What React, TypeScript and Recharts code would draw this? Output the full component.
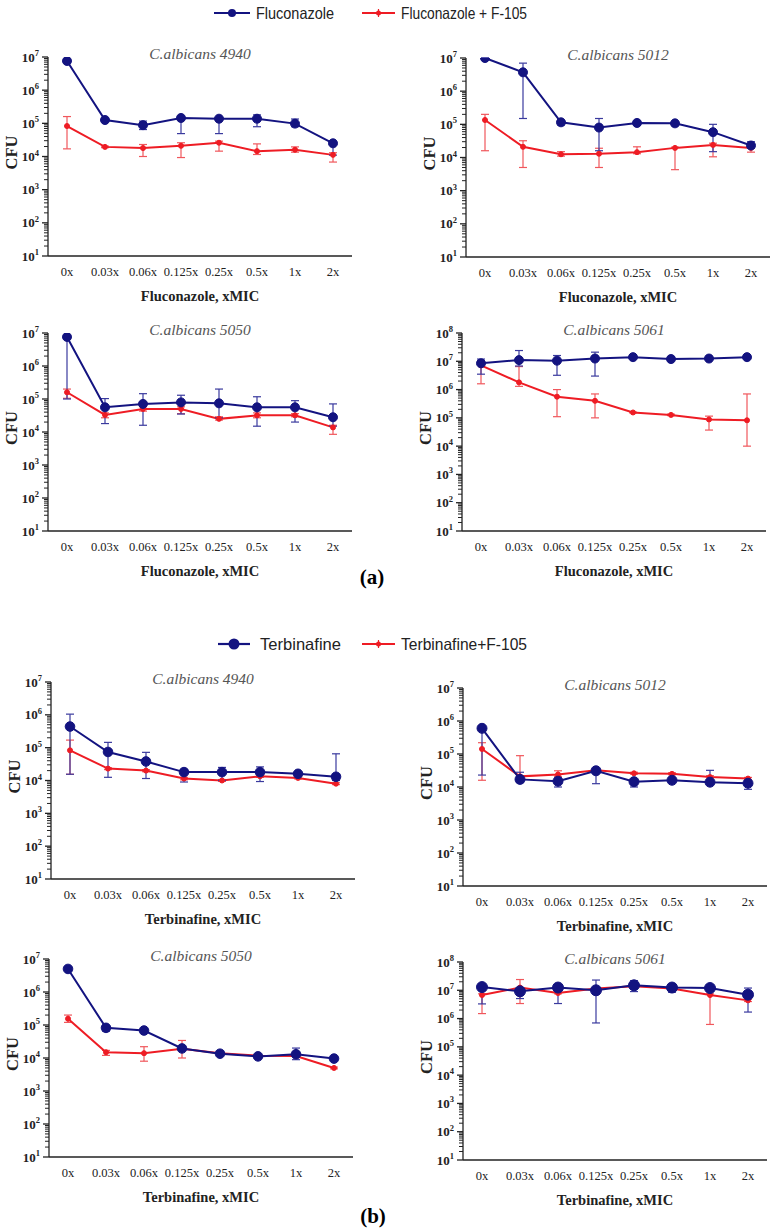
import React from 'react';
import { LineChart, Line, XAxis, YAxis, ErrorBar, Label } from 'recharts';

const doses = ['0x', '0.03x', '0.06x', '0.125x', '0.25x', '0.5x', '1x', '2x'];
const ticks7 = [1e1, 1e2, 1e3, 1e4, 1e5, 1e6, 1e7];
const ticks8 = [1e1, 1e2, 1e3, 1e4, 1e5, 1e6, 1e7, 1e8];
const minorSteps = [2, 3, 4, 5, 6, 7, 8, 9];

// (a) Fluconazole, C.albicans 4940
const flu4940 = [7.6e6, 1.26e5, 8.8e4, 1.45e5, 1.38e5, 1.38e5, 9.8e4, 2.5e4];
const flu4940Lo = [7.6e6, 1.2e5, 6.5e4, 4.9e4, 4.9e4, 7.9e4, 7.9e4, 1.1e4];
const flu4940Hi = [7.6e6, 1.32e5, 1.17e5, 1.6e5, 1.45e5, 1.8e5, 1.35e5, 2.6e4];
const fluF4940 = [8.3e4, 1.95e4, 1.8e4, 2.1e4, 2.6e4, 1.45e4, 1.6e4, 1.12e4];
const fluF4940Lo = [1.7e4, 1.85e4, 1.0e4, 9.3e3, 1.45e4, 1.15e4, 1.35e4, 6.8e3];
const fluF4940Hi = [1.6e5, 2.05e4, 2.3e4, 2.6e4, 2.9e4, 2.4e4, 1.95e4, 1.3e4];

// (a) Fluconazole, C.albicans 5012
const flu5012 = [1.0e7, 3.7e6, 1.15e5, 8.0e4, 1.1e5, 1.07e5, 5.8e4, 2.3e4];
const flu5012Lo = [1.0e7, 1.5e5, 9.5e4, 1.6e4, 1.0e5, 9.0e4, 1.5e4, 1.9e4];
const flu5012Hi = [1.0e7, 7.0e6, 1.3e5, 1.5e5, 1.2e5, 1.2e5, 1.0e5, 3.0e4];
const fluF5012 = [1.35e5, 2.1e4, 1.25e4, 1.3e4, 1.45e4, 1.95e4, 2.4e4, 1.95e4];
const fluF5012Lo = [1.6e4, 5.0e3, 1.1e4, 5.0e3, 1.3e4, 4.3e3, 1.05e4, 1.45e4];
const fluF5012Hi = [2.0e5, 3.2e4, 1.5e4, 1.9e4, 2.1e4, 2.05e4, 2.7e4, 2.4e4];

// (a) Fluconazole, C.albicans 5050
const flu5050 = [7.6e6, 5.6e4, 7.1e4, 7.9e4, 7.4e4, 5.6e4, 5.6e4, 2.8e4];
const flu5050Lo = [1.0e5, 1.8e4, 1.6e4, 3.5e4, 2.7e4, 1.5e4, 2.0e4, 1.5e4];
const flu5050Hi = [7.6e6, 1.03e5, 1.45e5, 1.3e5, 2.0e5, 1.17e5, 8.9e4, 7.1e4];
const fluF5050 = [1.6e5, 3.3e4, 5.0e4, 5.0e4, 2.5e4, 3.2e4, 3.2e4, 1.38e4];
const fluF5050Lo = [1.05e5, 2.7e4, 4.3e4, 3.6e4, 2.3e4, 2.7e4, 2.9e4, 8.5e3];
const fluF5050Hi = [2.0e5, 3.8e4, 5.8e4, 5.8e4, 2.9e4, 3.8e4, 3.6e4, 1.6e4];

// (a) Fluconazole, C.albicans 5061
const flu5061 = [8.5e6, 1.1e7, 1.05e7, 1.25e7, 1.4e7, 1.2e7, 1.25e7, 1.4e7];
const flu5061Lo = [3.5e6, 6.8e6, 3.2e6, 3.0e6, 1.35e7, 1.15e7, 1.2e7, 1.35e7];
const flu5061Hi = [1.2e7, 2.4e7, 1.6e7, 2.1e7, 1.45e7, 1.25e7, 1.3e7, 1.45e7];
const fluF5061 = [7.2e6, 1.8e6, 5.6e5, 4.0e5, 1.55e5, 1.27e5, 8.8e4, 8.2e4];
const fluF5061Lo = [1.6e6, 1.3e6, 1.1e5, 1.0e5, 1.5e5, 1.2e5, 3.7e4, 1.0e4];
const fluF5061Hi = [1.05e7, 6.5e6, 1.0e6, 7.0e5, 1.6e5, 1.35e5, 1.15e5, 7.0e5];

// (b) Terbinafine, C.albicans 4940
const ter4940 = [4.4e5, 7.4e4, 3.8e4, 1.8e4, 1.8e4, 1.8e4, 1.6e4, 1.3e4];
const ter4940Lo = [1.55e4, 1.25e4, 1.15e4, 9.0e3, 1.0e4, 9.3e3, 1.5e4, 1.0e4];
const ter4940Hi = [1.05e6, 1.45e5, 7.2e4, 2.2e4, 2.5e4, 2.6e4, 1.75e4, 6.5e4];
const terF4940 = [8.3e4, 2.3e4, 2.0e4, 1.15e4, 1.0e4, 1.35e4, 1.2e4, 8.0e3];
const terF4940Lo = [1.55e4, 2.15e4, 1.85e4, 1.05e4, 9.4e3, 1.25e4, 1.12e4, 7.5e3];
const terF4940Hi = [1.7e5, 2.45e4, 2.15e4, 1.25e4, 1.07e4, 1.45e4, 1.28e4, 8.5e3];

// (b) Terbinafine, C.albicans 5012
const ter5012 = [6.0e5, 1.7e4, 1.5e4, 3.1e4, 1.45e4, 1.6e4, 1.4e4, 1.3e4];
const ter5012Lo = [2.3e4, 1.36e4, 1.0e4, 1.26e4, 1.0e4, 1.5e4, 1.2e4, 8.5e3];
const ter5012Hi = [6.0e5, 2.8e4, 1.9e4, 3.3e4, 1.7e4, 1.8e4, 3.2e4, 1.6e4];
const terF5012 = [1.42e5, 2.1e4, 2.4e4, 3.2e4, 2.6e4, 2.5e4, 2.0e4, 1.8e4];
const terF5012Lo = [1.6e4, 1.9e4, 2.1e4, 3.0e4, 2.45e4, 2.35e4, 1.9e4, 1.7e4];
const terF5012Hi = [2.2e5, 8.9e4, 3.1e4, 3.4e4, 2.8e4, 2.7e4, 2.2e4, 1.95e4];

// (b) Terbinafine, C.albicans 5050
const ter5050 = [5.0e6, 8.2e4, 6.8e4, 1.95e4, 1.35e4, 1.12e4, 1.3e4, 9.6e3];
const ter5050Lo = [5.0e6, 6.5e4, 6.5e4, 1.7e4, 1.25e4, 1.05e4, 8.9e3, 9.0e3];
const ter5050Hi = [5.0e6, 9.8e4, 7.1e4, 2.3e4, 1.45e4, 1.2e4, 2.0e4, 1.0e4];
const terF5050 = [1.55e5, 1.5e4, 1.4e4, 1.9e4, 1.4e4, 1.17e4, 1.15e4, 5.0e3];
const terF5050Lo = [1.2e5, 1.2e4, 8.0e3, 1.0e4, 1.25e4, 1.1e4, 1.05e4, 4.7e3];
const terF5050Hi = [2.0e5, 1.7e4, 2.2e4, 3.4e4, 1.6e4, 1.25e4, 1.25e4, 5.3e3];

// (b) Terbinafine, C.albicans 5061
const ter5061 = [1.3e7, 9.2e6, 1.25e7, 1.0e7, 1.5e7, 1.25e7, 1.2e7, 7.0e6];
const ter5061Lo = [3.3e6, 5.1e6, 3.4e6, 7.0e5, 9.0e6, 8.5e6, 1.1e7, 1.7e6];
const ter5061Hi = [1.4e7, 1.2e7, 1.3e7, 2.3e7, 2.2e7, 1.7e7, 1.3e7, 1.2e7];
const terF5061 = [6.8e6, 1.25e7, 8.0e6, 1.15e7, 1.4e7, 1.15e7, 6.8e6, 4.4e6];
const terF5061Lo = [1.5e6, 3.4e6, 7.5e6, 1.1e7, 1.3e7, 1.1e7, 6.2e5, 4.0e6];
const terF5061Hi = [7.5e6, 2.4e7, 8.5e6, 1.2e7, 1.5e7, 1.2e7, 7.5e6, 4.8e6];

const NAVY = '#131380';
const NAVY_ERR = '#3a3a9e';
const RED = '#ee1c24';
const RED_ERR = '#f0575c';
const SERIF = '"Liberation Serif", "DejaVu Serif", serif';
const NARROW = '"Liberation Sans Narrow", "Liberation Sans", sans-serif';

function rows(b: number[], bLo: number[], bHi: number[], r: number[], rLo: number[], rHi: number[]) {
  return doses.map((d, i) => ({
    dose: d,
    drug: b[i],
    drugErr: [b[i] - bLo[i], bHi[i] - b[i]],
    combo: r[i],
    comboErr: [r[i] - rLo[i], rHi[i] - r[i]],
  }));
}

function withMinors(majors: number[]) {
  const out: number[] = [];
  majors.forEach((m, i) => {
    out.push(m);
    if (i < majors.length - 1) minorSteps.forEach((s) => out.push(m * s));
  });
  return out;
}

function LogTick(props: any) {
  const { x, y, payload } = props;
  const e = Math.log10(payload.value);
  const major = Math.abs(e - Math.round(e)) < 1e-6;
  return (
    <g>
      <line x1={x - (major ? 6 : 4)} x2={x} y1={y} y2={y} stroke="#222" strokeWidth={major ? 1.3 : 1} />
      {major && (
        <text x={x - 9} y={y + 4.5} textAnchor="end" fontFamily={SERIF} fontWeight="bold" fontSize={13} fill="#222">
          10<tspan dy={-5.5} fontSize={8.5}>{Math.round(e)}</tspan>
        </text>
      )}
    </g>
  );
}

type Plot = { x: number; y: number; w: number; h: number };

function Panel({ plot, data, top, title, xTitle, dotR }: {
  plot: Plot; data: any[]; top: number[]; title: string; xTitle: string; dotR: number;
}) {
  const ML = 60, MT = 30, MR = 10, XH = 60;
  const yMax = top[top.length - 1];
  return (
    <>
      <div style={{ position: 'absolute', left: plot.x - ML, top: plot.y - MT }}>
        <LineChart width={plot.w + ML + MR} height={plot.h + MT + XH} data={data}
          margin={{ top: MT, right: MR, left: 0, bottom: 0 }}>
          <XAxis dataKey="dose" height={XH} padding={{ left: 19, right: 19 }} interval={0}
            tickLine={false} tickSize={0} tickMargin={11}
            axisLine={{ stroke: '#222', strokeWidth: 1.3 }}
            tick={{ fontSize: 12.5, fontFamily: SERIF, fill: '#222' }}>
            <Label content={(p: any) => (
              <text x={p.viewBox.x + p.viewBox.width / 2} y={p.viewBox.y + 45} textAnchor="middle"
                fontFamily={SERIF} fontWeight="bold" fontSize={14.5} fill="#222">{xTitle}</text>
            )} />
          </XAxis>
          <YAxis scale="log" type="number" domain={[10, yMax]} allowDataOverflow width={ML}
            ticks={withMinors(top)} interval={0} tick={<LogTick />} tickLine={false} tickSize={0} tickMargin={0}
            axisLine={{ stroke: '#222', strokeWidth: 1.3 }}>
            <Label content={(p: any) => {
              const cx = p.viewBox.x + p.viewBox.width - 37;
              const cy = p.viewBox.y + p.viewBox.height / 2 - 4;
              return (
                <text x={cx} y={cy} transform={`rotate(-90 ${cx} ${cy})`} textAnchor="middle" dominantBaseline="central"
                  fontFamily={SERIF} fontWeight="bold" fontSize={16.5} fill="#222">CFU</text>
              );
            }} />
          </YAxis>
          <Line type="linear" dataKey="combo" stroke={RED} strokeWidth={2}
            dot={{ r: 2.5, fill: RED, stroke: RED, strokeWidth: 1 }} isAnimationActive={false}>
            <ErrorBar dataKey="comboErr" width={4} stroke={RED_ERR} strokeWidth={1.2} direction="y" />
          </Line>
          <Line type="linear" dataKey="drug" stroke={NAVY} strokeWidth={2}
            dot={{ r: dotR, fill: NAVY, stroke: NAVY, strokeWidth: 1 }} isAnimationActive={false}>
            <ErrorBar dataKey="drugErr" width={4} stroke={NAVY_ERR} strokeWidth={1.2} direction="y" />
          </Line>
        </LineChart>
      </div>
      <div style={{
        position: 'absolute', left: plot.x + plot.w / 2, top: plot.y - 3, transform: 'translate(-50%, -50%)',
        fontFamily: SERIF, fontStyle: 'italic', fontSize: 15.5, color: '#555', whiteSpace: 'nowrap',
      }}>{title}</div>
    </>
  );
}

function LegendRow({ y, drug, combo, blueR, x0, drugW, comboW }: {
  y: number; drug: string; combo: string; blueR: number; x0: number; drugW: number; comboW: number;
}) {
  return (
    <svg style={{ position: 'absolute', left: 0, top: y - 15 }} width={775} height={30}>
      <line x1={x0} x2={250} y1={15} y2={15} stroke={NAVY} strokeWidth={2.2} />
      <circle cx={(x0 + 250) / 2} cy={15} r={blueR} fill={NAVY} />
      <text x={x0 + 42} y={20.5} fontFamily={NARROW} fontSize={16.5} fill="#222"
        textLength={drugW} lengthAdjust="spacingAndGlyphs">{drug}</text>
      <line x1={362} x2={395} y1={15} y2={15} stroke={RED} strokeWidth={2.2} />
      <line x1={378.5} x2={378.5} y1={11} y2={19} stroke={RED} strokeWidth={1.2} />
      <circle cx={378.5} cy={15} r={2.5} fill={RED} />
      <text x={401} y={20.5} fontFamily={NARROW} fontSize={16.5} fill="#222"
        textLength={comboW} lengthAdjust="spacingAndGlyphs">{combo}</text>
    </svg>
  );
}

export default function App() {
  const W = 304;
  return (
    <div style={{ position: 'absolute', left: 0, top: 0, width: 775, height: 1231, background: '#fff', fontFamily: SERIF }}>
      <LegendRow y={13} drug="Fluconazole" combo="Fluconazole + F-105" blueR={4} x0={214} drugW={78} comboW={126} />
      <Panel plot={{ x: 48, y: 57, w: W, h: 199 }} top={ticks7} title="C.albicans 4940" xTitle="Fluconazole, xMIC" dotR={4.5}
        data={rows(flu4940, flu4940Lo, flu4940Hi, fluF4940, fluF4940Lo, fluF4940Hi)} />
      <Panel plot={{ x: 466, y: 58, w: W, h: 199 }} top={ticks7} title="C.albicans 5012" xTitle="Fluconazole, xMIC" dotR={4.5}
        data={rows(flu5012, flu5012Lo, flu5012Hi, fluF5012, fluF5012Lo, fluF5012Hi)} />
      <Panel plot={{ x: 48, y: 333, w: W, h: 198 }} top={ticks7} title="C.albicans 5050" xTitle="Fluconazole, xMIC" dotR={4.5}
        data={rows(flu5050, flu5050Lo, flu5050Hi, fluF5050, fluF5050Lo, fluF5050Hi)} />
      <Panel plot={{ x: 462, y: 333, w: W, h: 198 }} top={ticks8} title="C.albicans 5061" xTitle="Fluconazole, xMIC" dotR={4.5}
        data={rows(flu5061, flu5061Lo, flu5061Hi, fluF5061, fluF5061Lo, fluF5061Hi)} />
      <div style={{ position: 'absolute', left: 372, top: 577, transform: 'translate(-50%, -50%)', fontWeight: 'bold', fontSize: 21 }}>(a)</div>

      <LegendRow y={644} drug="Terbinafine" combo="Terbinafine+F-105" blueR={5.5} x0={218} drugW={81} comboW={126} />
      <Panel plot={{ x: 51, y: 682, w: W, h: 197 }} top={ticks7} title="C.albicans 4940" xTitle="Terbinafine, xMIC" dotR={4.8}
        data={rows(ter4940, ter4940Lo, ter4940Hi, terF4940, terF4940Lo, terF4940Hi)} />
      <Panel plot={{ x: 463, y: 688, w: W, h: 198 }} top={ticks7} title="C.albicans 5012" xTitle="Terbinafine, xMIC" dotR={5}
        data={rows(ter5012, ter5012Lo, ter5012Hi, terF5012, terF5012Lo, terF5012Hi)} />
      <Panel plot={{ x: 49, y: 959, w: W, h: 198 }} top={ticks7} title="C.albicans 5050" xTitle="Terbinafine, xMIC" dotR={4.8}
        data={rows(ter5050, ter5050Lo, ter5050Hi, terF5050, terF5050Lo, terF5050Hi)} />
      <Panel plot={{ x: 463, y: 962, w: W, h: 198 }} top={ticks8} title="C.albicans 5061" xTitle="Terbinafine, xMIC" dotR={5.5}
        data={rows(ter5061, ter5061Lo, ter5061Hi, terF5061, terF5061Lo, terF5061Hi)} />
      <div style={{ position: 'absolute', left: 373, top: 1216, transform: 'translate(-50%, -50%)', fontWeight: 'bold', fontSize: 21 }}>(b)</div>
    </div>
  );
}
